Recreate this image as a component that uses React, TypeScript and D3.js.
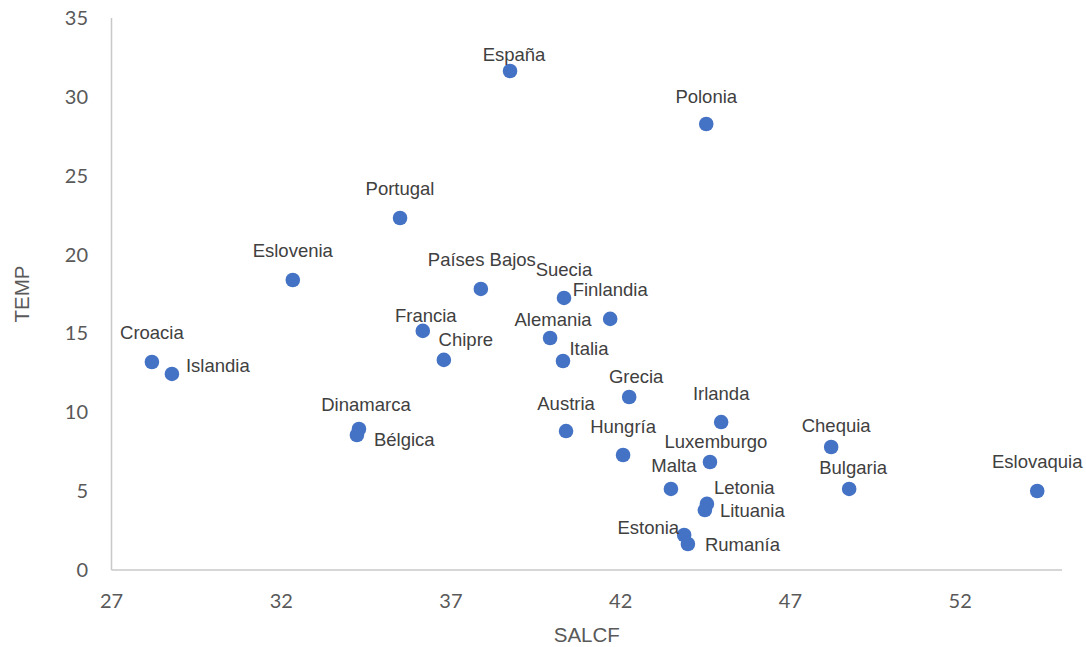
import React from "react";
import * as d3 from "d3";

// Country names and their SALCF / TEMP values
const countries = [
  "España", "Polonia", "Portugal", "Eslovenia", "Países Bajos", "Suecia",
  "Finlandia", "Francia", "Alemania", "Chipre", "Italia", "Croacia",
  "Islandia", "Grecia", "Irlanda", "Dinamarca", "Bélgica", "Austria",
  "Chequia", "Hungría", "Luxemburgo", "Malta", "Bulgaria", "Eslovaquia",
  "Letonia", "Lituania", "Estonia", "Rumanía",
];
const salcf = [
  38.74, 44.52, 35.5, 32.34, 37.88, 40.33,
  41.69, 36.17, 39.92, 36.79, 40.3, 28.19,
  28.78, 42.25, 44.96, 34.29, 34.23, 40.39,
  48.2, 42.07, 44.63, 43.48, 48.73, 54.27,
  44.54, 44.48, 43.87, 43.98,
];
const temp = [
  31.64, 28.28, 22.32, 18.39, 17.82, 17.25,
  15.92, 15.16, 14.71, 13.32, 13.25, 13.19,
  12.43, 10.97, 9.38, 8.94, 8.56, 8.81,
  7.8, 7.29, 6.85, 5.14, 5.14, 5.01,
  4.19, 3.8, 2.22, 1.65,
];

// Axis ticks
const xTicks = [27, 32, 37, 42, 47, 52];
const yTicks = [0, 5, 10, 15, 20, 25, 30, 35];

// Label placement relative to each point: [dx, dy, anchor]
const labelPlacement: [number, number, string][] = [
  [4, -16, "middle"], [0, -27, "middle"], [0, -29, "middle"], [0, -29, "middle"],
  [1, -29, "middle"], [0, -28, "middle"], [0, -29, "middle"], [3, -15, "middle"],
  [3, -18, "middle"], [22, -20, "middle"], [26, -13, "middle"], [0, -29, "middle"],
  [14, -8, "start"], [7, -20, "middle"], [0, -29, "middle"], [7, -24, "middle"],
  [17, 5, "start"], [0, -28, "middle"], [5, -21, "middle"], [0, -29, "middle"],
  [6, -20, "middle"], [3, -23, "middle"], [4, -21, "middle"], [0, -29, "middle"],
  [7, -16, "start"], [15, 0, "start"], [-5, -7, "end"], [17, 1, "start"],
];

const W = 1086;
const H = 647;
const margin = { left: 111.5, right: 24, top: 18, bottom: 77 };

export default function App() {
  const x = d3.scaleLinear().domain([27, 55]).range([margin.left, W - margin.right]);
  const y = d3.scaleLinear().domain([0, 35]).range([H - margin.bottom, margin.top]);
  const labelFont = "'Liberation Sans', Arial, Helvetica, sans-serif";
  const tickFont = "Lato, 'Open Sans', sans-serif";

  return (
    <svg
      width={W}
      height={H}
      style={{ position: "absolute", left: 0, top: 0, background: "#fff" }}
    >
      {/* axes */}
      <line x1={x(27)} x2={x(55)} y1={y(0)} y2={y(0)} stroke="#c8c8c8" strokeWidth={1.5} />
      <line x1={x(27)} x2={x(27)} y1={y(0)} y2={y(35)} stroke="#c8c8c8" strokeWidth={1.5} />

      {yTicks.map((t) => (
        <text
          key={"y" + t}
          x={88}
          y={y(t)}
          dy="0.35em"
          textAnchor="end"
          fontFamily={tickFont}
          fontSize={20}
          fill="#595959"
        >
          {t}
        </text>
      ))}
      {xTicks.map((t) => (
        <text
          key={"x" + t}
          x={x(t)}
          y={601}
          dy="0.35em"
          textAnchor="middle"
          fontFamily={tickFont}
          fontSize={20}
          fill="#595959"
        >
          {t}
        </text>
      ))}

      <text
        x={(x(27) + x(55)) / 2}
        y={635}
        dy="0.35em"
        textAnchor="middle"
        fontFamily={labelFont}
        fontSize={20.5}
        fill="#595959"
      >
        SALCF
      </text>
      <text
        transform={`translate(22, ${(y(0) + y(35)) / 2}) rotate(-90)`}
        dy="0.35em"
        textAnchor="middle"
        fontFamily={labelFont}
        fontSize={20.5}
        fill="#595959"
      >
        TEMP
      </text>

      {/* points */}
      {countries.map((c, i) => (
        <circle key={"p" + c} cx={x(salcf[i])} cy={y(temp[i])} r={7.3} fill="#4472C4" />
      ))}

      {/* data labels */}
      {countries.map((c, i) => {
        const [dx, dy, anchor] = labelPlacement[i];
        return (
          <text
            key={"l" + c}
            x={x(salcf[i]) + dx}
            y={y(temp[i]) + dy}
            dy="0.35em"
            textAnchor={anchor as any}
            fontFamily={labelFont}
            fontSize={18.5}
            fill="#404040"
          >
            {c}
          </text>
        );
      })}
    </svg>
  );
}
